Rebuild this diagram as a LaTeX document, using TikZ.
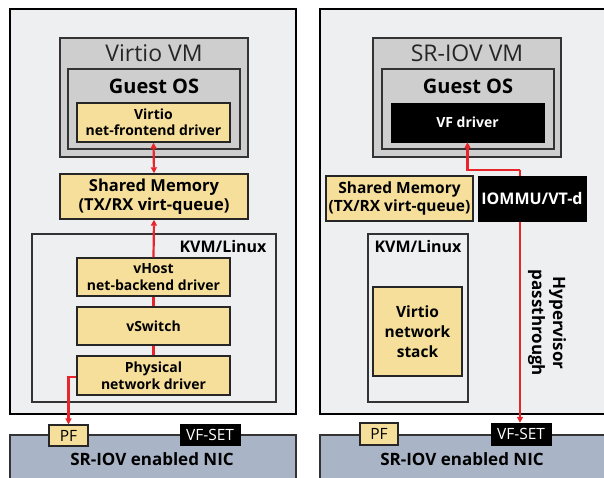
\documentclass[tikz,border=0pt]{standalone}
\usepackage{fontspec}
\setmainfont{Open Sans}
\usetikzlibrary{arrows.meta}
\definecolor{panelbg}{HTML}{EEEFF1}
\definecolor{vmgray}{HTML}{CECECE}
\definecolor{ylw}{HTML}{F6DF9B}
\definecolor{nicblue}{HTML}{A9B4C6}
\definecolor{redln}{HTML}{E8252B}
\tikzset{
  panel/.style={draw=black, fill=panelbg, line width=2.4pt, inner sep=0pt},
  vmbox/.style={draw=black!80, fill=vmgray, line width=1.5pt, inner sep=0pt},
  kvmbox/.style={draw=black!80, fill=panelbg, line width=1.3pt, inner sep=0pt},
  ybox/.style={draw=black!85, fill=ylw, line width=1.4pt, inner sep=0pt, align=center, font=\bfseries\fontsize{14}{16.5}\selectfont},
  kbox/.style={draw=black, fill=black, text=white, inner sep=0pt, align=center, font=\bfseries\fontsize{14}{16.5}\selectfont},
  nicbox/.style={draw=black!80, fill=nicblue, line width=1.5pt, inner sep=0pt},
  tagy/.style={draw=black!85, fill=ylw, line width=1.1pt, inner sep=0pt, font=\fontsize{15.5}{17}\selectfont},
  tagk/.style={draw=black, fill=black, text=white, inner sep=0pt, font=\fontsize{15.5}{17}\selectfont},
  redarr/.style={draw=redln, line width=2.2pt, -{Triangle[length=6pt,width=6pt]}},
  redline/.style={draw=redln, line width=2.2pt},
  ttl/.style={font=\fontsize{23}{26}\selectfont, text=black!85},
  gos/.style={font=\bfseries\fontsize{20}{23}\selectfont},
  kvml/.style={font=\bfseries\fontsize{16}{18}\selectfont},
  nicl/.style={font=\bfseries\fontsize{17}{19}\selectfont},
}
\begin{document}
\begin{tikzpicture}[x=1pt,y=-1pt]
\useasboundingbox (0,0) rectangle (604,478);
\begin{scope}
\clip (0,0) rectangle (604,478);
% ---------- left panel ----------
\node[panel, minimum width=286pt, minimum height=405pt] (outerL) at (153,211.5) {};
\node[vmbox, minimum width=188pt, minimum height=119pt] (vmL) at (154,97.5) {};
\node[ttl] (vmLt) at (154,53) {Virtio VM};
\node[vmbox, minimum width=172pt, minimum height=80pt] (guestL) at (154,109) {};
\node[gos] (guestLt) at (154,86) {Guest OS};
\node[ybox, minimum width=153pt, minimum height=39pt] (frontL) at (153.5,122.5) {Virtio\\net-frontend driver};
\node[ybox, minimum width=188pt, minimum height=45pt, font=\bfseries\fontsize{16.5}{19}\selectfont] (shmL) at (154,196.5) {Shared Memory\\(TX/RX virt-queue)};
\node[kvmbox, minimum width=244pt, minimum height=168pt] (kvmL) at (154,318) {};
\node[kvml, anchor=east] (kvmLt) at (270,246) {KVM/Linux};
\node[ybox, minimum width=153pt, minimum height=38pt] (vhost) at (153.5,277) {vHost\\net-backend driver};
\node[ybox, minimum width=153pt, minimum height=38pt] (vswitch) at (153.5,326) {vSwitch};
\node[ybox, minimum width=153pt, minimum height=39pt] (phys) at (153.5,375.5) {Physical\\network driver};
\node[nicbox, minimum width=286pt, minimum height=60pt] (nicL) at (153,465) {};
\node[nicl] (nicLt) at (152,459) {SR-IOV enabled NIC};
\node[tagy, minimum width=39pt, minimum height=21pt] (pfL) at (68.5,435.5) {PF};
\node[tagk, minimum width=60pt, minimum height=21pt] (vfsL) at (210,434.5) {VF-SET};
% arrows left
\draw[redarr, {Triangle[length=6pt,width=6pt]}-{Triangle[length=6pt,width=6pt]}] (frontL.south) -- (shmL.north);
\draw[redarr] (vhost.north) -- (shmL.south);
\draw[redline] (vhost.south) -- (vswitch.north);
\draw[redline] (vswitch.south) -- (phys.north);
\draw[redarr] ([yshift=-1.5pt]phys.west) -| (pfL.north);
% ---------- right panel ----------
\node[panel, minimum width=300pt, minimum height=405pt] (outerR) at (470,211.5) {};
\node[vmbox, minimum width=188pt, minimum height=119pt] (vmR) at (467,97.5) {};
\node[ttl] (vmRt) at (467,53) {SR-IOV VM};
\node[vmbox, minimum width=172pt, minimum height=80pt] (guestR) at (468,109) {};
\node[gos] (guestRt) at (468,86) {Guest OS};
\node[kbox, minimum width=153pt, minimum height=39pt] (vfdrv) at (467.5,122.5) {VF driver};
\node[ybox, minimum width=147pt, minimum height=45pt, font=\bfseries\fontsize{15.5}{18}\selectfont] (shmR) at (399.5,198.5) {Shared Memory\\(TX/RX virt-queue)};
\node[kvmbox, minimum width=100pt, minimum height=168pt] (kvmR) at (418,318) {};
\node[kvml] (kvmRt) at (418,246) {KVM/Linux};
\node[ybox, minimum width=89pt, minimum height=89pt, font=\bfseries\fontsize{15.5}{20}\selectfont] (stack) at (417.5,331.5) {Virtio\\network\\stack};
\node[rotate=-90, align=center, font=\bfseries\fontsize{17}{21}\selectfont] (hyp) at (547,323) {Hypervisor\\passthrough};
\node[nicbox, minimum width=300pt, minimum height=60pt] (nicR) at (470,465) {};
\node[nicl] (nicRt) at (462,459) {SR-IOV enabled NIC};
\node[tagy, minimum width=38pt, minimum height=22pt] (pfR) at (379,434) {PF};
\node[tagk, minimum width=60pt, minimum height=22pt] (vfsR) at (521,434) {VF-SET};
% arrows right
\coordinate (bend) at (520,170);
\draw[redarr] (bend) -| (vfdrv.south);
\draw[redarr] (bend) -- (bend |- vfsR.north);
\node[kbox, minimum width=108pt, minimum height=45pt, font=\bfseries\fontsize{16}{18}\selectfont] (iommu) at (532,198.5) {IOMMU/VT-d};
\end{scope}
\end{tikzpicture}
\end{document}
